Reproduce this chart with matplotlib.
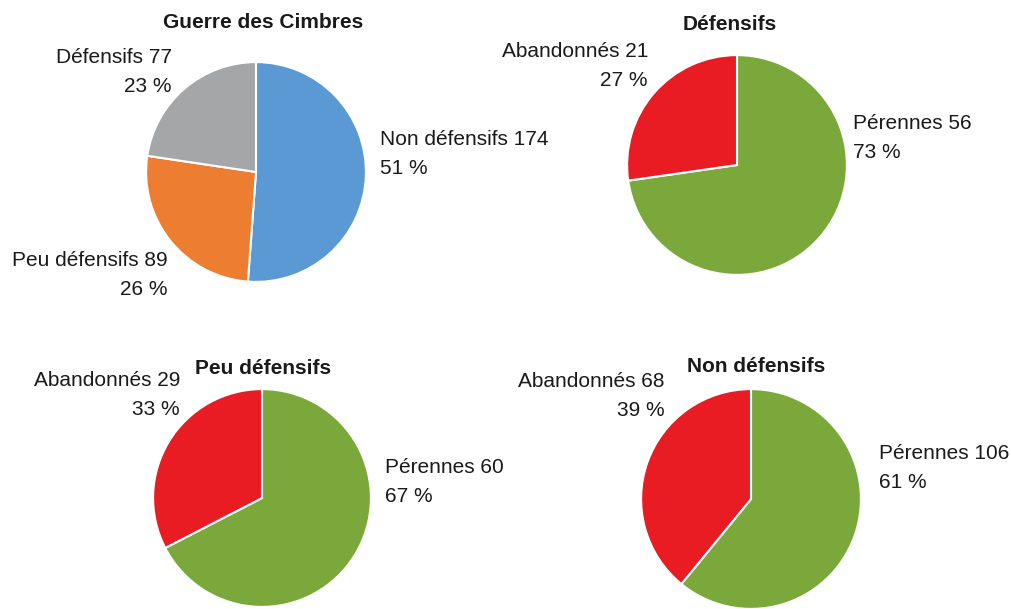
"""
Répartition des réfugiés de la guerre des Cimbres,
puis devenir (pérennes / abandonnés) par catégorie.
"""
import matplotlib
matplotlib.use('Agg')
import matplotlib.pyplot as plt

plt.rcParams['font.family'] = ['Liberation Sans', 'DejaVu Sans']

titles = ['Guerre des Cimbres', 'Défensifs', 'Peu défensifs', 'Non défensifs']

cimbres_labels = ['Non défensifs', 'Peu défensifs', 'Défensifs']
cimbres_values = [174, 89, 77]

outcome_labels = ['Pérennes', 'Abandonnés']
defensifs_values = [56, 21]
peu_defensifs_values = [60, 29]
non_defensifs_values = [106, 68]

cimbres_colors = ['#5a99d4', '#ed7d31', '#a4a6a8']
outcome_colors = ['#7aa83a', '#e81c22']

W, H = 1012, 609

# pie centre (px), radius (px), title position, label anchors (x, y, ha)
layout = [
    dict(c=(256, 172), r=111, title=(263, 22),
         anchors=[(380, 154, 'left'), (168, 275, 'right'), (172, 72, 'right')]),
    dict(c=(737, 165), r=111, title=(730, 24),
         anchors=[(853, 138, 'left'), (648, 66, 'right')]),
    dict(c=(262, 498), r=110, title=(263, 368),
         anchors=[(385, 482, 'left'), (180, 395, 'right')]),
    dict(c=(751, 499), r=111, title=(756, 367),
         anchors=[(879, 468, 'left'), (665, 396, 'right')]),
]

charts = [
    (cimbres_labels, cimbres_values, cimbres_colors),
    (outcome_labels, defensifs_values, outcome_colors),
    (outcome_labels, peu_defensifs_values, outcome_colors),
    (outcome_labels, non_defensifs_values, outcome_colors),
]

fig = plt.figure(figsize=(W / 100, H / 100), dpi=100)
fig.patch.set_facecolor('white')

for title, (labels, values, colors), lay in zip(titles, charts, layout):
    cx, cy = lay['c']
    r = lay['r']
    ax = fig.add_axes([(cx - r) / W, 1 - (cy + r) / H, 2 * r / W, 2 * r / H])
    ax.pie(values, colors=colors, startangle=90, counterclock=False,
           radius=1, wedgeprops=dict(edgecolor='white', linewidth=1.5))
    ax.set_xlim(-1.01, 1.01)
    ax.set_ylim(-1.01, 1.01)
    ax.set_aspect('equal')
    ax.axis('off')

    tx, ty = lay['title']
    fig.text(tx / W, 1 - ty / H, title, ha='center', va='center',
             fontsize=15, fontweight='bold', color='#1a1a1a')

    total = sum(values)
    for label, value, (lx, ly, ha) in zip(labels, values, lay['anchors']):
        pct = round(value / total * 100)
        fig.text(lx / W, 1 - ly / H, f'{label} {value}\n{pct} %',
                 ha=ha, va='center', multialignment=ha,
                 fontsize=15, linespacing=1.62, color='#1a1a1a')

fig.savefig('out.png', dpi=100, facecolor='white')
